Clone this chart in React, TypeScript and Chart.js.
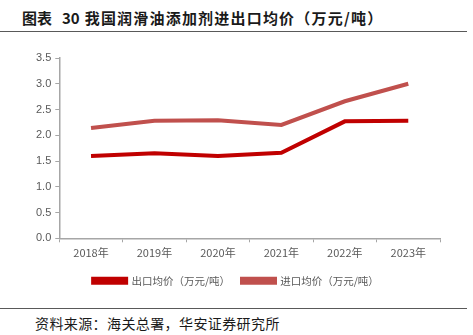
import React, { useEffect, useRef } from "react";
import { Chart, registerables } from "chart.js";

Chart.register(...registerables);

const categories = ["2018年", "2019年", "2020年", "2021年", "2022年", "2023年"];
const exportPrice = [1.6, 1.65, 1.6, 1.66, 2.27, 2.28];
const importPrice = [2.14, 2.28, 2.29, 2.2, 2.66, 3.0];
const seriesNames = ["出口均价（万元/吨）", "进口均价（万元/吨）"];
const titleLabel = "图表";
const titleNumber = "30";
const titleText = "我国润滑油添加剂进出口均价（万元/吨）";
const sourceText = "资料来源：海关总署，华安证券研究所";

export default function App() {
  const ref = useRef<HTMLCanvasElement>(null);
  useEffect(() => {
    const ctx = ref.current!;
    const axisColor = "#a6a6a6";
    const chart = new Chart(ctx, {
      type: "line",
      data: {
        labels: categories,
        datasets: [
          {
            label: seriesNames[0],
            data: exportPrice,
            borderColor: "#C00000",
            backgroundColor: "#C00000",
            borderWidth: 4,
            pointRadius: 0,
            tension: 0,
          },
          {
            label: seriesNames[1],
            data: importPrice,
            borderColor: "#C0504D",
            backgroundColor: "#C0504D",
            borderWidth: 4,
            pointRadius: 0,
            tension: 0,
          },
        ],
      },
      options: {
        animation: false,
        responsive: false,
        maintainAspectRatio: false,
        layout: { padding: { left: 32, right: 33, top: 22, bottom: 6 } },
        plugins: {
          tooltip: { enabled: false },
          legend: {
            position: "bottom",
            labels: {
              boxWidth: 33,
              boxHeight: 4,
              padding: 12,
              color: "#595959",
              font: { family: "'Noto Sans CJK SC'", size: 10.5 },
            },
          },
        },
        scales: {
          x: {
            offset: true,
            grid: {
              offset: true,
              drawOnChartArea: false,
              drawTicks: true,
              tickLength: 4,
              color: axisColor,
            },
            border: { color: axisColor, width: 1.5 },
            ticks: {
              color: "#595959",
              padding: 4,
              font: { family: "'Noto Sans CJK SC'", size: 11 },
            },
          },
          y: {
            min: 0,
            max: 3.5,
            grid: {
              drawOnChartArea: false,
              drawTicks: true,
              tickLength: 4,
              color: axisColor,
            },
            border: { color: axisColor, width: 1.5 },
            ticks: {
              stepSize: 0.5,
              color: "#595959",
              padding: 4,
              font: { family: "Liberation Sans", size: 11 },
              callback: (v: any) => Number(v).toFixed(1),
            },
          },
        },
      },
    });
    return () => chart.destroy();
  }, []);

  return (
    <div
      style={{
        position: "absolute",
        left: 0,
        top: 0,
        width: 473,
        height: 335,
        background: "#fff",
        fontFamily: "'Noto Sans CJK SC'",
      }}
    >
      <div
        style={{
          position: "absolute",
          left: 22,
          top: 8,
          fontSize: 15,
          fontWeight: "bold",
          color: "#1a1a1a",
          whiteSpace: "nowrap",
          lineHeight: "20px",
        }}
      >
        <span>{titleLabel}</span>
        <span style={{ marginLeft: 10 }}>{titleNumber}</span>
        <span style={{ marginLeft: 5, letterSpacing: 1.2 }}>{titleText}</span>
      </div>
      <div style={{ position: "absolute", left: 0, top: 31, width: 467, height: 1, background: "#595959" }} />
      <canvas ref={ref} width={473} height={266} style={{ position: "absolute", left: 0, top: 36 }} />
      <div style={{ position: "absolute", left: 0, top: 308, width: 467, height: 1, background: "#595959" }} />
      <div
        style={{
          position: "absolute",
          left: 35,
          top: 313,
          fontSize: 14,
          letterSpacing: 0.4,
          color: "#1a1a1a",
          whiteSpace: "nowrap",
          lineHeight: "20px",
        }}
      >
        {sourceText}
      </div>
    </div>
  );
}
